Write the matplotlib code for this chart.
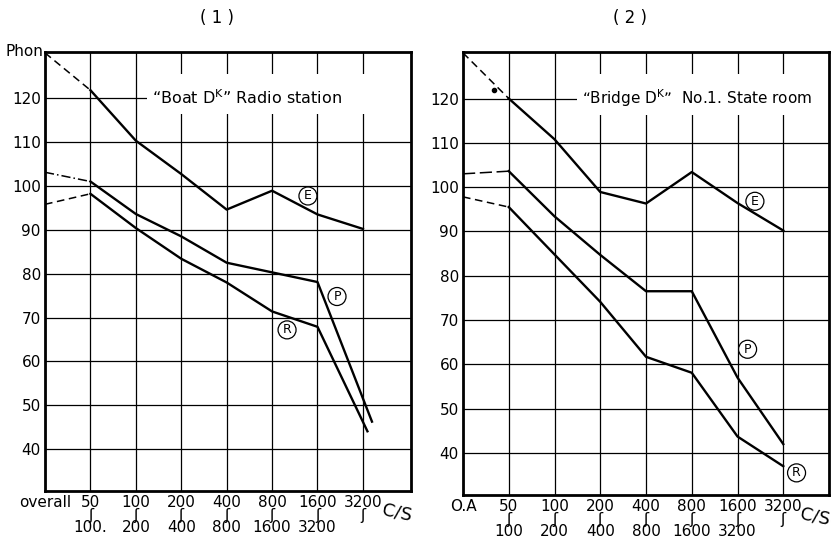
import matplotlib
matplotlib.use("Agg")
import matplotlib.pyplot as plt
from matplotlib.patches import Rectangle

plt.rcParams['font.family'] = ['DejaVu Sans']

# band positions: 0 = overall, 1 = 50~100, ... 7 = 3200~
bands = [0, 1, 2, 3, 4, 5, 6, 7]
tick_top = ["overall", "50", "100", "200", "400", "800", "1600", "3200"]
tick_top2 = ["O.A", "50", "100", "200", "400", "800", "1600", "3200"]
tick_bot = ["", "100.", "200", "400", "800", "1600", "3200", ""]
tick_bot2 = ["", "100", "200", "400", "800", "1600", "3200", ""]
yticks = [40, 50, 60, 70, 80, 90, 100, 110, 120]

# (1) "Boat Dk" Radio station
e1_x = [0, 1, 2, 3, 4, 5, 6, 7]
e1 = [130.3, 121.8, 110.3, 102.7, 94.6, 98.9, 93.5, 90.2]
p1_x = [0, 1, 2, 3, 4, 5, 6, 7.2]
p1 = [103.1, 101.0, 93.6, 88.5, 82.5, 80.3, 78.1, 46.3]
r1_x = [0, 1, 2, 3, 4, 5, 6, 7.1]
r1 = [95.8, 98.2, 90.4, 83.4, 78.0, 71.4, 67.9, 44.1]

# (2) "Bridge Dk" No.1 State room
e2_x = [0, 1, 2, 3, 4, 5, 6, 7]
e2 = [130.3, 120.0, 110.8, 98.9, 96.3, 103.4, 96.4, 90.2]
p2_x = [0, 1, 2, 3, 4, 5, 6, 7]
p2 = [103.0, 103.6, 93.4, 84.7, 76.5, 76.5, 57.0, 42.0]
r2_x = [0, 1, 2, 3, 4, 5, 6, 7]
r2 = [97.8, 95.5, 84.8, 74.1, 61.7, 58.1, 43.7, 37.0]
stray_dot = (0.68, 122.0)

fig = plt.figure(figsize=(8.38, 5.45), dpi=100)
ax1 = fig.add_axes([0.0537, 0.0991, 0.4368, 0.8055])
ax2 = fig.add_axes([0.5525, 0.0917, 0.4368, 0.8129])

lw = 1.7
squig = "\u0283"


def draw_panel(ax, series, xmax, tops, bots, labels, title_box):
    ax.set_xlim(0, xmax)
    ax.set_ylim(30.5, 130.5)
    ax.set_yticks(yticks)
    ax.set_xticks(bands)
    ax.grid(True, color='black', lw=0.9)
    ax.set_axisbelow(True)
    for s in ax.spines.values():
        s.set_linewidth(2.0)
    ax.tick_params(length=0, labelsize=11, pad=3)

    labs = []
    for i, (t, b) in enumerate(zip(tops, bots)):
        if i == 0:
            labs.append(t)
        elif b:
            labs.append(t + "\n" + squig + "\n" + b)
        else:
            labs.append(t + "\n" + squig)
    ax.set_xticklabels(labs, linespacing=0.78, va='top')

    # white box behind the title text (grid is broken there)
    ax.add_patch(Rectangle((title_box[0], 116.3), title_box[1] - title_box[0], 9.2,
                           facecolor='white', edgecolor='none', zorder=1.5))

    for (xs, ys, ls) in series:
        ax.plot(xs[:2], ys[:2], color='black', lw=1.1, ls=ls, zorder=3)
        ax.plot(xs[1:], ys[1:], color='black', lw=lw, zorder=3)

    for (lx, ly, lt) in labels:
        ax.text(lx, ly, lt, fontsize=9, ha='center', va='center', zorder=4,
                bbox=dict(boxstyle='circle,pad=0.2', fc='white', ec='black', lw=0.9))

    ax.text(xmax - 0.3, -0.05, "C/S", transform=ax.get_xaxis_transform(),
            fontsize=13, ha='center', va='center', rotation=-12)


draw_panel(ax1,
           [(e1_x, e1, (0, (5, 3))), (p1_x, p1, (0, (6, 2, 1, 2))), (r1_x, r1, (0, (5, 3)))],
           8.06, tick_top, tick_bot,
           [(5.79, 97.7, "E"), (6.43, 74.8, "P"), (5.33, 67.2, "R")],
           (2.25, 8.06))
draw_panel(ax2,
           [(e2_x, e2, (0, (5, 3))), (p2_x, p2, (0, (8, 3))), (r2_x, r2, (0, (5, 3)))],
           8.0, tick_top2, tick_bot2,
           [(6.38, 96.8, "E"), (6.22, 63.4, "P"), (7.29, 35.5, "R")],
           (2.5, 8.0))
ax2.plot(*stray_dot, marker='o', ms=3, color='black', zorder=3)

# titles inside the plots
ax1.text(2.35, 120, "\u201cBoat D$^{\\mathsf{K}}$\u201d Radio station", fontsize=11.5,
         ha='left', va='center', zorder=2)
ax2.text(2.6, 120, "\u201cBridge D$^{\\mathsf{K}}$\u201d  No.1. State room", fontsize=11,
         ha='left', va='center', zorder=2)

ax1.text(-0.005, 1.0, "Phon", transform=ax1.transAxes, fontsize=11,
         ha='right', va='center')

fig.text(0.259, 0.967, "( 1 )", fontsize=12, ha='center', va='center')
fig.text(0.752, 0.967, "( 2 )", fontsize=12, ha='center', va='center')

fig.savefig("out.png", dpi=100)
